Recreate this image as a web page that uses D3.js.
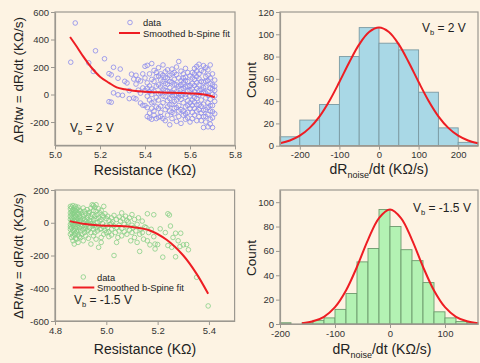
<!DOCTYPE html>
<html>
<head>
<meta charset="utf-8">
<script src="https://cdn.jsdelivr.net/npm/d3@7"></script>
<style>
  body { margin: 0; background: #fdf3e3; }
  svg { display: block; font-family: "Liberation Sans", Arial, sans-serif; }
</style>
</head>
<body>
<svg id="chart" width="480" height="363"></svg>
<script>
// ---- data ----
// top-left: Vb = 2 V scatter (resistance KΩ, dR/dt KΩ/s)
const scatterHi = [
  [5.07,235],[5.09,520],[5.15,230],[5.17,168],[5.18,318],[5.22,260],[5.24,152],[5.25,143],[5.26,198],[5.24,-52],
  [5.25,-56],[5.26,12],[5.28,-2],[5.28,118],[5.29,185],[5.30,-6],[5.31,96],[5.32,84],[5.33,28],[5.34,148],
  [5.35,112],[5.35,-26],[5.36,76],[5.36,-32],[5.37,32],[5.37,108],[5.38,-62],[5.38,98],[5.39,-78],[5.39,48],
  [5.33,-30],[5.36,140],[5.38,10],[5.39,150],
  [5.40,-80],[5.40,205],[5.41,212],[5.41,-12],[5.42,150],[5.42,62],[5.40,120],[5.41,-160],[5.42,-135],[5.43,-180],
  [5.43,-100],[5.43,40],[5.44,95],[5.44,-55],[5.44,175],[5.45,-20],[5.45,130],[5.41,85],[5.42,-40],[5.43,0],
  [5.44,-150],[5.45,60],[5.40,30],[5.42,20],[5.43,110],[5.44,25],[5.45,-90],[5.41,-95],[5.43,-60],[5.45,-175],
  [5.44,-120],[5.42,-170],[5.45,160],[5.43,225],[5.41,45],
  [5.46,-165],[5.46,-40],[5.46,70],[5.46,195],[5.47,-130],[5.47,10],[5.47,105],[5.47,-85],[5.48,-175],[5.48,-60],
  [5.48,40],[5.48,140],[5.48,215],[5.49,-110],[5.49,-15],[5.49,80],[5.49,165],[5.50,-150],[5.50,-45],[5.50,25],
  [5.50,120],[5.46,5],[5.47,55],[5.48,-10],[5.49,-190],[5.50,75],[5.46,-100],[5.47,150],[5.48,95],[5.49,30],
  [5.50,-90],[5.50,180],[5.47,-160],[5.49,125],[5.46,135],
  [5.51,-220],[5.51,-120],[5.51,-30],[5.51,50],[5.51,140],[5.52,-175],[5.52,-70],[5.52,15],[5.52,90],[5.52,185],
  [5.53,-140],[5.53,-50],[5.53,35],[5.53,110],[5.53,160],[5.54,-195],[5.54,-95],[5.54,-5],[5.54,70],[5.54,145],
  [5.55,-160],[5.55,-20],[5.55,60],[5.55,240],[5.55,120],[5.51,95],[5.52,-10],[5.53,-100],[5.54,20],[5.55,-80],
  [5.51,-75],[5.52,150],[5.53,-5],[5.54,200],[5.55,5],[5.52,-130],[5.53,75],[5.54,-40],[5.55,-120],[5.51,10],
  [5.56,-210],[5.56,-110],[5.56,-35],[5.56,40],[5.56,100],[5.56,170],[5.57,-150],[5.57,-60],[5.57,10],[5.57,85],
  [5.57,150],[5.58,-180],[5.58,-90],[5.58,-20],[5.58,55],[5.58,125],[5.58,190],[5.59,-130],[5.59,-45],[5.59,25],
  [5.59,95],[5.59,160],[5.60,-200],[5.60,-100],[5.60,-10],[5.60,65],[5.60,135],[5.56,-5],[5.57,-120],[5.58,0],
  [5.59,-170],[5.60,30],[5.57,45],[5.58,-140],[5.59,60],[5.60,-60],[5.56,70],[5.57,120],[5.58,100],[5.59,-80],
  [5.61,-175],[5.61,-80],[5.61,5],[5.61,80],[5.61,160],[5.62,-150],[5.62,-55],[5.62,20],[5.62,110],[5.62,190],
  [5.63,-190],[5.63,-120],[5.63,-30],[5.63,45],[5.63,130],[5.63,205],[5.64,-160],[5.64,-75],[5.64,-5],[5.64,70],
  [5.64,150],[5.64,220],[5.65,-135],[5.65,-40],[5.65,35],[5.65,95],[5.65,175],[5.61,-130],[5.62,-100],[5.63,85],
  [5.64,-110],[5.65,-190],[5.61,40],[5.62,65],[5.63,-75],[5.64,115],[5.65,10],[5.61,120],[5.62,-20],[5.63,0],
  [5.64,30],[5.65,-85],[5.62,150],[5.63,170],[5.61,-40],
  [5.66,-240],[5.66,-160],[5.66,-70],[5.66,15],[5.66,90],[5.66,165],[5.66,210],[5.67,-200],[5.67,-110],[5.67,-25],
  [5.67,55],[5.67,130],[5.67,195],[5.68,-235],[5.68,-145],[5.68,-60],[5.68,20],[5.68,100],[5.68,180],[5.69,-215],
  [5.69,-120],[5.69,-35],[5.69,45],[5.69,120],[5.69,215],[5.70,-240],[5.70,-170],[5.70,-80],[5.70,0],[5.70,70],
  [5.70,150],[5.71,-140],[5.71,-50],[5.71,30],[5.71,105],[5.66,-115],[5.67,-160],[5.68,-5],[5.69,80],[5.70,-125],
  [5.71,-10],[5.66,50],[5.67,95],[5.68,140],[5.69,-80],[5.70,40],[5.71,60],[5.69,-180],[5.67,10],[5.68,-95]
];
const fitHiR = [5.067, 5.10, 5.126, 5.16, 5.20, 5.24, 5.274, 5.31, 5.348, 5.40, 5.45, 5.50, 5.55, 5.60, 5.644, 5.68, 5.71];
const fitHiD = [418, 340, 275, 200, 130, 85, 52, 38, 28, 20, 16, 13, 11, 8, 4, -6, -20];

// bottom-left: Vb = -1.5 V scatter
const scatterLo = [
  [4.86,100],[4.86,60],[4.86,20],[4.86,-10],[4.86,-40],[4.86,-70],[4.86,85],[4.86,40],[4.86,-25],
  [4.865,95],[4.865,70],[4.865,30],[4.865,0],[4.865,-30],[4.865,-60],[4.865,-90],[4.865,50],[4.865,10],
  [4.87,105],[4.87,80],[4.87,55],[4.87,25],[4.87,-5],[4.87,-45],[4.87,-80],[4.87,-110],[4.87,-15],[4.87,65],
  [4.875,90],[4.875,60],[4.875,15],[4.875,-20],[4.875,-50],[4.875,-70],[4.875,-130],[4.875,35],[4.875,75],
  [4.88,100],[4.88,70],[4.88,40],[4.88,5],[4.88,-35],[4.88,-65],[4.88,-95],[4.88,-10],[4.88,20],
  [4.885,85],[4.885,50],[4.885,10],[4.885,-25],[4.885,-55],[4.885,-100],[4.885,30],
  [4.89,95],[4.89,60],[4.89,25],[4.89,-15],[4.89,-45],[4.89,-75],[4.89,-120],[4.89,0],
  [4.895,75],[4.895,40],[4.895,5],[4.895,-30],[4.895,-85],[4.895,55],
  [4.90,70],[4.90,30],[4.90,-10],[4.90,-50],[4.90,-90],[4.90,15],
  [4.905,60],[4.905,-20],[4.905,-70],[4.91,90],[4.91,40],[4.91,0],[4.91,-40],[4.91,-110],[4.915,70],[4.915,20],
  [4.915,-25],[4.915,-60],[4.92,55],[4.92,10],[4.92,-35],[4.92,-80],[4.925,80],[4.925,30],[4.925,-10],[4.925,-50],
  [4.93,45],[4.93,0],[4.93,-45],[4.93,-95],[4.935,65],[4.935,15],[4.935,-30],[4.94,90],[4.94,35],[4.94,-5],
  [4.94,-60],[4.94,-130],[4.945,110],[4.945,50],[4.945,-20],[4.95,75],[4.95,20],[4.95,-40],[4.95,-80],[4.95,105],
  [4.91,25],[4.92,-15],[4.93,60],[4.94,10],[4.95,-10],
  [4.955,95],[4.955,40],[4.955,-15],[4.955,-60],[4.96,70],[4.96,25],[4.96,-30],[4.96,-100],[4.965,50],[4.965,0],
  [4.965,-50],[4.97,85],[4.97,30],[4.97,-20],[4.97,-150],[4.975,60],[4.975,10],[4.975,-40],[4.98,75],[4.98,20],
  [4.98,-35],[4.98,-90],[4.985,45],[4.985,-5],[4.99,100],[4.99,35],[4.99,-25],[4.99,-70],[4.995,55],[4.995,-45],
  [5.00,25],[5.00,-15],[5.00,-60],[4.96,110],[4.98,-120],
  [5.005,40],[5.005,-30],[5.01,15],[5.01,-55],[5.01,-85],[5.015,-10],[5.02,30],[5.02,-40],[5.02,-75],[5.025,5],
  [5.03,-20],[5.03,45],[5.03,-200],[5.035,-60],[5.04,20],[5.04,-30],[5.045,-90],[5.05,35],[5.05,-15],[5.05,-50],
  [5.055,10],[5.06,-35],[5.06,-80],[5.065,25],[5.07,-10],[5.07,-55],[5.075,40],[5.08,-25],[5.08,-70],[5.085,5],
  [5.09,-45],[5.09,30],[5.095,-110],[5.10,-15],[5.10,-60],[5.10,50],[5.04,-120],[5.06,60],[5.08,15],[5.02,-5],
  [5.105,-30],[5.11,20],[5.11,-90],[5.115,-50],[5.12,-10],[5.12,-120],[5.125,30],[5.13,-70],[5.13,-175],[5.135,-40],
  [5.14,-60],[5.14,10],[5.145,-100],[5.15,-25],[5.155,-30],[5.16,55],[5.16,-110],[5.165,-60],[5.17,-135],[5.175,-40],
  [5.185,49],[5.185,-85],[5.19,-160],[5.19,-130],[5.20,-133],[5.21,-37],
  [5.22,-210],[5.24,-139],[5.24,55],[5.246,47],[5.25,-20],[5.26,-90],[5.27,-208],[5.27,-64],[5.28,-110],[5.29,-64],
  [5.287,-145],[5.30,-135],[5.313,-133],[5.32,-165],[5.352,-333],[5.397,-508],[5.23,-60],[5.255,-150]
];
const fitLoR = [4.858, 4.91, 4.975, 5.05, 5.105, 5.17, 5.235, 5.30, 5.352, 5.397];
const fitLoD = [10, -6, -17, -20, -27, -47, -104, -200, -312, -434];

// top-right histogram (Vb = 2 V)
const histHiEdges = [-250, -200, -150, -100, -50, 0, 50, 100, 150, 200, 250];
const histHiCounts = [8, 23, 37, 80, 106, 92, 86, 48, 16, 3];
const gaussHiX = [-250, -225, -200, -175, -150, -125, -100, -75, -50, -25, 0, 25, 50, 75, 100, 125, 150, 175, 200, 225, 250];
const gaussHiY = [2.2, 4.7, 9.0, 16.0, 26.4, 40.4, 57.2, 74.9, 90.9, 102, 106, 102, 90.9, 74.9, 57.2, 40.4, 26.4, 16.0, 9.0, 4.7, 2.2];

// bottom-right histogram (Vb = -1.5 V)
const histLoEdges = [-200, -180, -160, -140, -120, -100, -80, -60, -40, -20, 0, 20, 40, 60, 80, 100, 120, 140, 160];
const histLoCounts = [1, 0, 1, 3, 5, 12, 25, 51, 62, 94, 80, 61, 52, 34, 10, 5, 2, 1];
const gaussLoX = [-160, -140, -120, -100, -80, -60, -40, -20, 0, 20, 40, 60, 80, 100, 120, 140, 160];
const gaussLoY = [0.7, 2.2, 5.9, 13.8, 27.5, 47.0, 69.1, 87.0, 94, 87.0, 69.1, 47.0, 27.5, 13.8, 5.9, 2.2, 0.7];

// ---- drawing ----
const BG = '#fdf3e3', FRAME = '#9c9890', TXT = '#333', RED = '#ee1d23';
const svg = d3.select('#chart');
svg.append('rect').attr('width', 480).attr('height', 363).attr('fill', BG);

function drawAxes(x, y, xMajor, xMinor, yMajor, yMinor, fx, fy) {
  const [x0, x1] = x.range(), [y0, y1] = y.range();
  const g = svg.append('g');
  g.append('rect')
    .attr('x', x0).attr('y', y1).attr('width', x1 - x0).attr('height', y0 - y1)
    .attr('fill', 'none').attr('stroke', FRAME).attr('stroke-width', 1.2);

  const bx = g.append('g').attr('transform', `translate(0,${y0})`);
  bx.call(d3.axisBottom(x).tickValues(xMinor).tickSize(2).tickSizeOuter(0).tickFormat(''));
  bx.call(d3.axisBottom(x).tickValues(xMajor).tickSize(4).tickSizeOuter(0).tickPadding(2).tickFormat(fx));

  const ly = g.append('g').attr('transform', `translate(${x0},0)`);
  ly.call(d3.axisLeft(y).tickValues(yMinor).tickSize(2).tickSizeOuter(0).tickFormat(''));
  ly.call(d3.axisLeft(y).tickValues(yMajor).tickSize(4).tickSizeOuter(0).tickPadding(2).tickFormat(fy));

  g.selectAll('.domain').attr('stroke', FRAME).attr('stroke-width', 1.2);
  g.selectAll('.tick line').attr('stroke', FRAME);
  g.selectAll('.tick text').attr('fill', TXT).style('font-size', '9.5px')
    .style('font-family', '"Liberation Sans", Arial, sans-serif');
}

function vbLabel(x, y, val) {
  const t = svg.append('text').attr('x', x).attr('y', y).attr('fill', '#222').style('font-size', '12px');
  t.append('tspan').text('V');
  t.append('tspan').attr('dy', 3).style('font-size', '7.5px').text('b');
  t.append('tspan').attr('dy', -3).text(` = ${val} V`);
}

function yTitle(cx, cy, txt, size) {
  svg.append('text').attr('transform', `translate(${cx},${cy}) rotate(-90)`)
    .attr('text-anchor', 'middle').attr('fill', '#222').style('font-size', size + 'px').text(txt);
}

function noiseTitle(cx, y) {
  const t = svg.append('text').attr('x', cx).attr('y', y).attr('text-anchor', 'middle')
    .attr('fill', '#222').style('font-size', '14px');
  t.append('tspan').text('dR');
  t.append('tspan').attr('dy', 4).style('font-size', '9px').text('noise');
  t.append('tspan').attr('dy', -4).text('/dt (KΩ/s)');
}

const fmt1 = d => d.toFixed(1);
const fmt0 = d => String(d);

// ---------- top-left ----------
{
  const x = d3.scaleLinear().domain([5.0, 5.8]).range([55, 235]);
  const y = d3.scaleLinear().domain([-370, 600]).range([145.4, 12]);
  svg.append('g').selectAll('circle').data(scatterHi).join('circle')
    .attr('cx', d => x(d[0])).attr('cy', d => y(d[1])).attr('r', 2.3)
    .attr('fill', 'none').attr('stroke', '#8a8aee').attr('stroke-width', 0.8);
  const fit = d3.line().x(d => x(d[0])).y(d => y(d[1])).curve(d3.curveCatmullRom);
  svg.append('path').attr('d', fit(d3.zip(fitHiR, fitHiD)))
    .attr('fill', 'none').attr('stroke', RED).attr('stroke-width', 2);
  drawAxes(x, y, d3.range(5.0, 5.81, 0.2), d3.range(5.1, 5.8, 0.2),
    d3.range(-200, 601, 200), d3.range(-300, 600, 200), fmt1, fmt0);

  // legend
  svg.append('circle').attr('cx', 130).attr('cy', 22.5).attr('r', 2.3)
    .attr('fill', 'none').attr('stroke', '#8a8aee').attr('stroke-width', 0.8);
  svg.append('text').attr('x', 143).attr('y', 26).attr('fill', '#222').style('font-size', '9.3px').text('data');
  svg.append('line').attr('x1', 119).attr('x2', 140).attr('y1', 33).attr('y2', 33)
    .attr('stroke', RED).attr('stroke-width', 2);
  svg.append('text').attr('x', 143).attr('y', 36.5).attr('fill', '#222').style('font-size', '9.3px').text('Smoothed b-Spine fit');

  vbLabel(70, 131.5, '2');
  yTitle(23, 80, 'ΔR/tw = dR/dt (KΩ/s)', 13.5);
  svg.append('text').attr('x', 145).attr('y', 175).attr('text-anchor', 'middle')
    .attr('fill', '#222').style('font-size', '14px').text('Resistance (KΩ)');
}

// ---------- top-right ----------
{
  const x = d3.scaleLinear().domain([-250, 250]).range([280, 478]);
  const y = d3.scaleLinear().domain([0, 120]).range([145.7, 12]);
  const bins = histHiCounts.map((c, i) => ({ lo: histHiEdges[i], hi: histHiEdges[i + 1], c }));
  svg.append('g').selectAll('rect').data(bins).join('rect')
    .attr('x', d => x(d.lo)).attr('width', d => x(d.hi) - x(d.lo))
    .attr('y', d => y(d.c)).attr('height', d => y(0) - y(d.c))
    .attr('fill', '#a9d8e6').attr('stroke', '#7b9aa3').attr('stroke-width', 0.9);
  const g = d3.line().x(d => x(d[0])).y(d => y(d[1])).curve(d3.curveCatmullRom);
  svg.append('path').attr('d', g(d3.zip(gaussHiX, gaussHiY)))
    .attr('fill', 'none').attr('stroke', RED).attr('stroke-width', 2);
  drawAxes(x, y, d3.range(-200, 201, 100), d3.range(-250, 251, 100),
    d3.range(0, 121, 20), d3.range(10, 120, 20), fmt0, fmt0);
  vbLabel(422, 31.5, '2');
  yTitle(256, 80, 'Count', 13.5);
  noiseTitle(379, 174);
}

// ---------- bottom-left ----------
{
  const x = d3.scaleLinear().domain([4.8, 5.5]).range([55, 234.6]);
  const y = d3.scaleLinear().domain([-600, 200]).range([321, 190]);
  svg.append('g').selectAll('circle').data(scatterLo).join('circle')
    .attr('cx', d => x(d[0])).attr('cy', d => y(d[1])).attr('r', 2.3)
    .attr('fill', 'none').attr('stroke', '#86cf86').attr('stroke-width', 0.8);
  const fit = d3.line().x(d => x(d[0])).y(d => y(d[1])).curve(d3.curveCatmullRom);
  svg.append('path').attr('d', fit(d3.zip(fitLoR, fitLoD)))
    .attr('fill', 'none').attr('stroke', RED).attr('stroke-width', 2);
  drawAxes(x, y, d3.range(4.8, 5.41, 0.2), d3.range(4.9, 5.51, 0.1).filter((v, i) => i % 2 === 0),
    d3.range(-600, 201, 200), d3.range(-500, 200, 200), fmt1, fmt0);

  svg.append('circle').attr('cx', 83.3).attr('cy', 277).attr('r', 2.3)
    .attr('fill', 'none').attr('stroke', '#86cf86').attr('stroke-width', 0.8);
  svg.append('text').attr('x', 97).attr('y', 280.5).attr('fill', '#222').style('font-size', '9.3px').text('data');
  svg.append('line').attr('x1', 72.7).attr('x2', 94.3).attr('y1', 287.5).attr('y2', 287.5)
    .attr('stroke', RED).attr('stroke-width', 2);
  svg.append('text').attr('x', 97).attr('y', 290.8).attr('fill', '#222').style('font-size', '9.3px').text('Smoothed b-Spine fit');

  vbLabel(74, 303.5, '-1.5');
  yTitle(23, 256, 'ΔR/tw = dR/dt (KΩ/s)', 13.5);
  svg.append('text').attr('x', 145).attr('y', 354).attr('text-anchor', 'middle')
    .attr('fill', '#222').style('font-size', '14px').text('Resistance (KΩ)');
}

// ---------- bottom-right ----------
{
  const x = d3.scaleLinear().domain([-200, 160]).range([280, 478]);
  const y = d3.scaleLinear().domain([0, 110]).range([324, 190]);
  const bins = histLoCounts.map((c, i) => ({ lo: histLoEdges[i], hi: histLoEdges[i + 1], c }));
  svg.append('g').selectAll('rect').data(bins.filter(d => d.c > 0)).join('rect')
    .attr('x', d => x(d.lo)).attr('width', d => x(d.hi) - x(d.lo))
    .attr('y', d => y(d.c)).attr('height', d => y(0) - y(d.c))
    .attr('fill', '#b3f2b3').attr('stroke', '#6d9a6d').attr('stroke-width', 0.9);
  const g = d3.line().x(d => x(d[0])).y(d => y(d[1])).curve(d3.curveCatmullRom);
  svg.append('path').attr('d', g(d3.zip(gaussLoX, gaussLoY)))
    .attr('fill', 'none').attr('stroke', RED).attr('stroke-width', 2);
  drawAxes(x, y, d3.range(-200, 101, 100), d3.range(-150, 160, 100),
    d3.range(0, 101, 20), d3.range(10, 110, 20), fmt0, fmt0);
  vbLabel(413, 211.5, '-1.5');
  yTitle(256, 258, 'Count', 13.5);
  noiseTitle(382, 354);
}
</script>
</body>
</html>
